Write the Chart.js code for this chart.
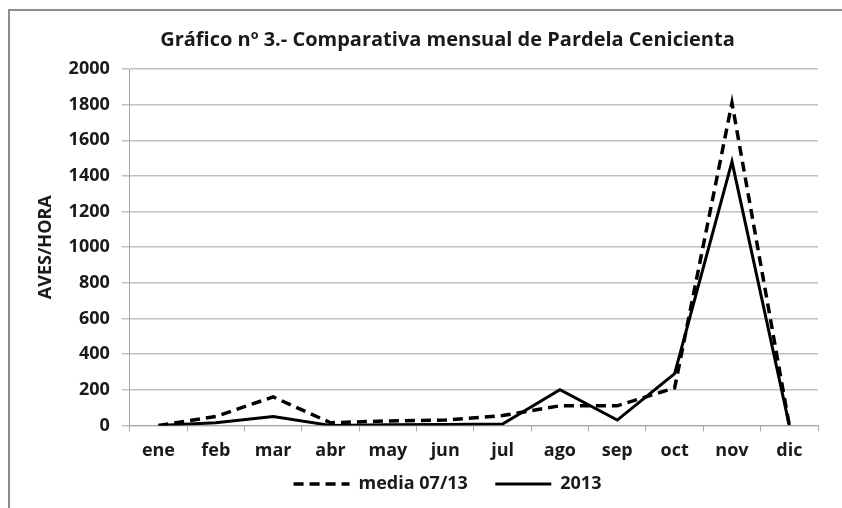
<!DOCTYPE html>
<html>
<head>
<meta charset="utf-8">
<script src="https://cdn.jsdelivr.net/npm/chart.js@4"></script>
<style>
  html, body { margin: 0; padding: 0; background: #fff; overflow: hidden; }
  #frame {
    position: absolute; left: 8px; top: 9px; width: 900px; height: 600px;
    border-left: 2px solid #8c8c8c; border-top: 2px solid #8c8c8c;
  }
  #wrap { position: absolute; left: 0; top: 0; width: 896px; height: 508px; }
</style>
</head>
<body>
<div id="frame"></div>
<div id="wrap"><canvas id="chart"></canvas></div>
<script>
// meses y valores (aves/hora)
const months = ["ene", "feb", "mar", "abr", "may", "jun", "jul", "ago", "sep", "oct", "nov", "dic"];
const media0713 = [0, 50, 160, 15, 25, 30, 55, 110, 110, 210, 1810, 0];
const year2013 = [0, 15, 50, 0, 3, 5, 8, 200, 30, 290, 1480, 0];
const yTicks = [0, 200, 400, 600, 800, 1000, 1200, 1400, 1600, 1800, 2000];

const FONT = "'Open Sans', sans-serif";
const TXT = "#1a1a1a";

const ctx = document.getElementById("chart").getContext("2d");
const chart = new Chart(ctx, {
  type: "line",
  data: {
    labels: months,
    datasets: [
      {
        label: "media 07/13",
        data: media0713,
        borderColor: "#000",
        borderWidth: 3.5,
        borderDash: [10, 6],
        pointRadius: 0,
        tension: 0,
      },
      {
        label: "2013",
        data: year2013,
        borderColor: "#000",
        borderWidth: 3,
        pointRadius: 0,
        tension: 0,
      },
    ],
  },
  options: {
    responsive: true,
    maintainAspectRatio: false,
    animation: false,
    layout: { padding: { left: 35, right: 36, top: 28, bottom: 5 } },
    plugins: {
      title: {
        display: true,
        text: "Gráfico nº 3.- Comparativa mensual de Pardela Cenicienta",
        color: TXT,
        font: { family: FONT, size: 20, weight: "bold" },
        padding: { top: 0, bottom: 17 },
      },
      legend: {
        display: true,
        position: "bottom",
        labels: {
          color: TXT,
          font: { family: FONT, size: 18, weight: "bold" },
          usePointStyle: true,
          pointStyle: "line",
          pointStyleWidth: 56,
          padding: 4,
          // muestra de línea con el mismo trazo y espacio entre entradas
          generateLabels: (chart) => {
            const items = Chart.defaults.plugins.legend.labels.generateLabels(chart);
            items.forEach((it, i) => {
              const ds = chart.data.datasets[i];
              it.lineDash = ds.borderDash || [];
              it.lineWidth = ds.borderWidth;
              it.strokeStyle = ds.borderColor;
              if (i < items.length - 1) it.text = it.text + "     ";
            });
            return items;
          },
        },
      },
      tooltip: { enabled: false },
    },
    scales: {
      x: {
        offset: true,
        grid: {
          offset: true,
          drawOnChartArea: false,
          drawTicks: true,
          tickLength: 6,
          color: "#a6a6a6",
        },
        border: { color: "#a6a6a6", width: 1 },
        ticks: {
          color: TXT,
          font: { family: FONT, size: 18, weight: "bold" },
          padding: 9,
          maxRotation: 0,
        },
      },
      y: {
        min: 0,
        max: 2000,
        afterBuildTicks: (axis) => {
          axis.ticks = yTicks.map((v) => ({ value: v }));
        },
        grid: {
          color: "#c0c0c0",
          lineWidth: 1.5,
          drawTicks: true,
          tickLength: 8,
        },
        border: { color: "#a6a6a6", width: 1 },
        ticks: {
          color: TXT,
          font: { family: FONT, size: 18, weight: "bold" },
          padding: 12,
          callback: (v) => String(v),
        },
        title: {
          display: true,
          text: "AVES/HORA",
          color: TXT,
          font: { family: FONT, size: 18, weight: "bold" },
          padding: { top: 0, bottom: 0 },
        },
      },
      // eje vacío a la derecha para centrar título y leyenda como en el original
      yRight: {
        position: "right",
        display: true,
        grid: { display: false, drawTicks: false },
        border: { display: false },
        ticks: { display: false },
        afterFit: (axis) => {
          axis.width = 42;
        },
      },
    },
  },
});
</script>
</body>
</html>
